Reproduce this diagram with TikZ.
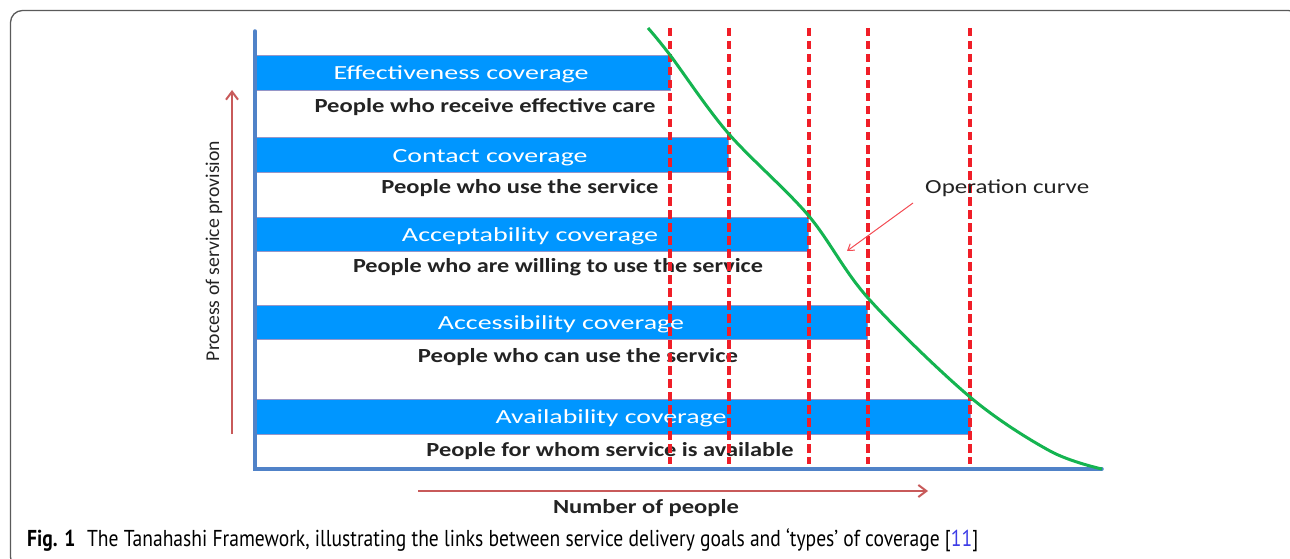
\documentclass[tikz,border=0pt]{standalone}
\usepackage{fontspec}
\usepackage{graphicx}
\setmainfont{Carlito}
\newfontfamily\capfont{PT Sans}
\usetikzlibrary{arrows.meta}
\definecolor{barblue}{RGB}{0,150,255}
\definecolor{baredge}{RGB}{150,150,200}
\definecolor{axisblue}{RGB}{80,130,200}
\definecolor{axred}{RGB}{200,90,90}
\definecolor{dashred}{RGB}{240,30,40}
\definecolor{curvegreen}{RGB}{20,180,80}
\definecolor{txtgray}{RGB}{35,35,35}
\definecolor{refblue}{RGB}{60,60,230}
\definecolor{framegray}{RGB}{90,90,90}
\newcommand\fitw[2]{\resizebox{#1}{\height}{#2}}
\tikzset{
  bar/.style={draw=baredge, line width=0.6pt, fill=barblue, rectangle, inner sep=0pt, anchor=north west},
  bartext/.style={text=white, anchor=base, inner sep=0pt, font=\fontsize{20}{22}\selectfont},
  ptext/.style={text=txtgray, anchor=base, inner sep=0pt, font=\fontsize{20}{22}\selectfont\bfseries},
  dashline/.style={draw=dashred, line width=3.4pt, dash pattern=on 8.5pt off 4.5pt},
  axis/.style={draw=axisblue, line width=3.5pt},
  redarrow/.style={draw=axred, line width=2pt, -{Straight Barb[length=8pt,width=12pt,line width=2pt]}},
}
\begin{document}
\begin{tikzpicture}[x=1pt,y=-1pt]
\useasboundingbox (0,0) rectangle (1290,559);
\begin{scope}
\clip (0,0) rectangle (1290,559);
\draw[framegray, line width=1.3pt, rounded corners=12pt] (10.5,10.5) rectangle (1300.5,569);
\end{scope}

% axes
\coordinate (ytop) at (255,31);
\coordinate (orig) at (255,469);
\coordinate (xend) at (1102,469);

% bars
\node[bar, minimum width=415pt, minimum height=35pt] (b1) at (255,55) {};
\node[bar, minimum width=473pt, minimum height=35pt] (b2) at (255,137) {};
\node[bar, minimum width=553pt, minimum height=34pt] (b3) at (255,217) {};
\node[bar, minimum width=612pt, minimum height=34pt] (b4) at (255,305) {};
\node[bar, minimum width=715pt, minimum height=35pt] (b5) at (255,399) {};

\draw[axis, line cap=round] (ytop) -- (orig) -- (xend);

% bar texts
\node[bartext] (t1) at (461,80) {\fitw{255pt}{Effectiveness coverage}};
\node[bartext] (t2) at (490,162) {\fitw{195pt}{Contact coverage}};
\node[bartext] (t3) at (530,241) {\fitw{256pt}{Acceptability coverage}};
\node[bartext] (t4) at (561,329) {\fitw{246pt}{Accessibility coverage}};
\node[bartext] (t5) at (611,423) {\fitw{231pt}{Availability coverage}};

\node[ptext] (p1) at (485,113) {\fitw{341pt}{People who receive effective care}};
\node[ptext] (p2) at (520,193) {\fitw{277pt}{People who use the service}};
\node[ptext] (p3) at (558,272) {\fitw{410pt}{People who are willing to use the service}};
\node[ptext] (p4) at (578,362) {\fitw{320pt}{People who can use the service}};
\node[ptext] (p5) at (610,456) {\fitw{367pt}{People for whom service is available}};

% dashed lines
\foreach \x/\n in {670/d1,729/d2,809/d3,868/d4,970/d5}{
  \coordinate (\n top) at (\x,28);
  \coordinate (\n bot) at (\x,464);
  \draw[dashline] (\n top) -- (\n bot);
}

% operation curve
\draw[curvegreen, line width=3pt] plot[smooth, tension=0.55] coordinates {(648,28) (670,55) (728,133) (808,215) (868,298) (970,397) (1050,451) (1102,469)};

\node[text=txtgray, anchor=base west, inner sep=0pt, font=\fontsize{20}{22}\selectfont] (op) at (925,193) {\fitw{164pt}{Operation curve}};
\coordinate (opfrom) at (913,203);
\coordinate (opto) at (847,251);
\draw[dashred!80, line width=1pt, -{Straight Barb[length=6pt,width=8pt]}] (opfrom) -- (opto);

% axis arrows
\coordinate (ya) at (232,434);
\coordinate (yb) at (232,90);
\draw[redarrow] (ya) -- (yb);
\coordinate (xa) at (418,491);
\coordinate (xb) at (928,491);
\draw[redarrow] (xa) -- (xb);

\node[text=txtgray, rotate=90, anchor=base, inner sep=0pt, font=\fontsize{19.5}{21}\selectfont] (ylab) at (219,251) {\fitw{220pt}{Process of service provision}};
\node[text=txtgray, anchor=base, inner sep=0pt, font=\fontsize{20}{22}\selectfont\bfseries] (xlab) at (646,513) {\fitw{186pt}{Number of people}};

% caption
\node[anchor=base west, inner sep=0pt, text=black, font=\capfont\fontsize{23}{26}\selectfont] (cap) at (27,546) {\fitw{951pt}{\textbf{Fig. 1}\hspace{0.6em}The Tanahashi Framework, illustrating the links between service delivery goals and ‘types’ of coverage [{\color{refblue}11}]}};
\end{tikzpicture}
\end{document}
